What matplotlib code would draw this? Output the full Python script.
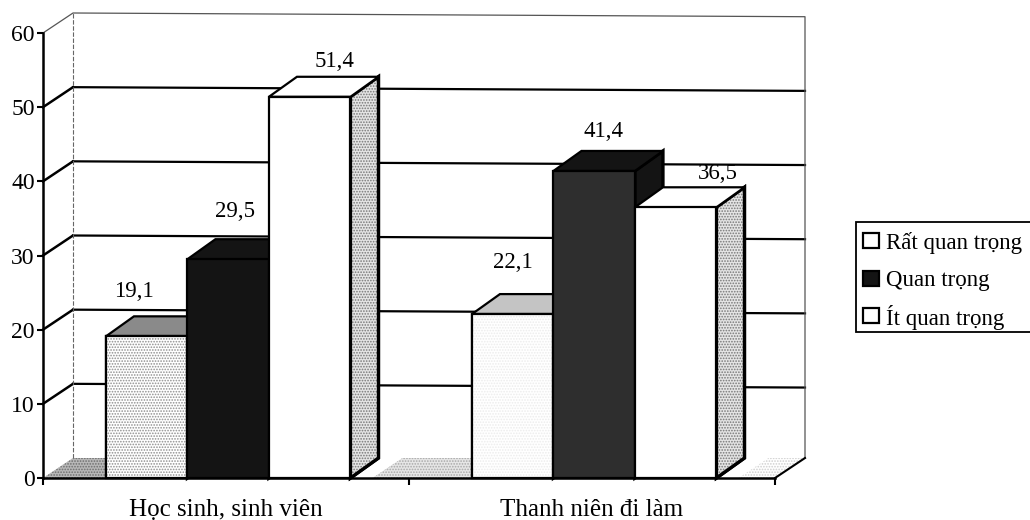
import matplotlib
matplotlib.use("Agg")
import matplotlib.pyplot as plt
from matplotlib.patches import Polygon, Rectangle

categories = ["Học sinh, sinh viên", "Thanh niên đi làm"]
series_names = ["Rất quan trọng", "Quan trọng", "Ít quan trọng"]
rat_quan_trong = [19.1, 22.1]
quan_trong = [29.5, 41.4]
it_quan_trong = [51.4, 36.5]
y_ticks = [0, 10, 20, 30, 40, 50, 60]

W, H = 1030, 520
X0, X1, Y0, Y60 = 43, 775, 478, 33  # front plane in pixels
PX_X = (X1 - X0) / 2.0  # pixels per category
PX_Y = (Y0 - Y60) / 60.0  # pixels per value unit
DX, DY = 30 / PX_X, 20 / PX_Y  # depth of the walls
BAR_DX, BAR_DY = 28 / PX_X, 20 / PX_Y  # depth of the bars
BAR_W = 81.5 / PX_X
GROUP_OFF = 0.172
SKEW = 0.5  # the scan is a little crooked, back lines drop towards the right

plt.rcParams['font.family'] = ['Liberation Serif', 'DejaVu Serif']
plt.rcParams['hatch.linewidth'] = 0.8

fig = plt.figure(figsize=(W / 100, H / 100), dpi=100)
ax = fig.add_axes([X0 / W, 1 - Y0 / H, (X1 - X0) / W, (Y0 - Y60) / H])
ax.set_xlim(0, 2)
ax.set_ylim(0, 60)


def poly(points, face, edge="black", lw=1.5, zorder=3):
    p = Polygon(points, closed=True, facecolor=face, edgecolor=edge, linewidth=lw,
                clip_on=False, zorder=zorder, joinstyle="miter")
    ax.add_patch(p)


def speckled(points, color, face="white", zorder=3):
    # hatch drawn on its own so the outline can stay black
    p = Polygon(points, closed=True, facecolor=face, edgecolor=color, linewidth=0,
                hatch="......", clip_on=False, zorder=zorder)
    ax.add_patch(p)


# walls
for v in y_ticks[1:-1]:
    ax.plot([DX, 2 + DX], [v + DY, v + DY - SKEW], color="black", lw=1.6, clip_on=False, zorder=1)
    ax.plot([0, DX], [v, v + DY], color="black", lw=1.8, clip_on=False, zorder=1)
ax.plot([0, DX, 2 + DX, 2 + DX], [60, 60 + DY, 60 + DY - SKEW, DY], color="#555555", lw=0.9,
        clip_on=False, zorder=1)
ax.plot([DX, DX], [DY, 60 + DY], color="#666666", lw=0.8, ls=(0, (4, 1.5)), clip_on=False, zorder=1)

# floor, split in the three parts that show between the bars
floor_parts = [(0, 0.2, "#6e6e6e", "#b8b8b8"), (0.9, 1.2, "#a8a8a8", "#e6e6e6"),
               (1.9, 2, "#cfcfcf", "white")]
for a, b, col, face in floor_parts:
    speckled([(a, 0), (b, 0), (b + DX, DY), (a + DX, DY)], col, face=face, zorder=1.5)
ax.plot([2, 2 + DX], [0, DY], color="black", lw=1.5, clip_on=False, zorder=1.6)

# bars, left to right so each one covers the side of the previous one
series = [rat_quan_trong, quan_trong, it_quan_trong]
front_color = [["white", "white"], ["#141414", "#2e2e2e"], ["white", "white"]]
front_speck = [["#8f8f8f", "#ececec"], [None, None], [None, None]]
top_color = [["#8a8a8a", "#c4c4c4"], ["#141414", "#141414"], ["white", "white"]]
side_color = ["#b0b0b0", "#141414", "#d8d8d8"]
label_off = [[(-13, 45), (0, 52)], [(7, 48), (9, 39)], [(25, 35), (42, 34)]]

for g in range(2):
    for s, vals in enumerate(series):
        x = g + GROUP_OFF + s * BAR_W
        v = vals[g]
        front = [(x, 0), (x + BAR_W, 0), (x + BAR_W, v), (x, v)]
        top = [(x, v), (x + BAR_W, v), (x + BAR_W + BAR_DX, v + BAR_DY), (x + BAR_DX, v + BAR_DY)]
        side = [(x + BAR_W, 0), (x + BAR_W + BAR_DX, BAR_DY), (x + BAR_W + BAR_DX, v + BAR_DY),
                (x + BAR_W, v)]
        z = 3 + s
        poly(side, side_color[s], lw=2.4, zorder=z)
        if s == 2:
            speckled(side, "#777777", face="#e4e4e4", zorder=z)
            poly(side, "none", lw=2.4, zorder=z)
        poly(top, top_color[s][g], lw=1.6, zorder=z)
        poly(front, front_color[s][g], lw=1.6, zorder=z)
        if front_speck[s][g]:
            speckled(front, front_speck[s][g], zorder=z)
            poly(front, "none", lw=1.6, zorder=z)
        ax.annotate(str(v).replace(".", ","), (x + BAR_W / 2, v),
                    xytext=label_off[s][g], textcoords="offset pixels", ha="center", va="center",
                    fontsize=16.5, zorder=8, annotation_clip=False)

# axes
for name in ["top", "right"]:
    ax.spines[name].set_visible(False)
for name in ["left", "bottom"]:
    ax.spines[name].set_linewidth(1.8)
    ax.spines[name].set_zorder(7)
ax.set_yticks(y_ticks)
ax.tick_params(axis="y", labelsize=17, width=1.5, length=4, pad=2)
ax.set_xticks([0, 1, 2])
ax.set_xticklabels([])
ax.tick_params(axis="x", which="major", width=1.5, length=5)
ax.set_xticks([0.5, 1.5], minor=True)
ax.set_xticklabels(categories, minor=True)
ax.tick_params(axis="x", which="minor", length=0, labelsize=18, pad=15)
ax.patch.set_visible(False)

# legend, laid out by hand since the box runs off the right edge of the scan
fig.add_artist(Rectangle((856 / W, 1 - 332 / H), 180 / W, 110 / H, facecolor="white",
                         edgecolor="black", linewidth=1.3, transform=fig.transFigure))
legend_rows = [240, 278, 315]
legend_face = ["white", "#141414", "white"]
for name, row, face in zip(series_names, legend_rows, legend_face):
    fig.add_artist(Rectangle((863 / W, 1 - (row + 7.5) / H), 16 / W, 15 / H, facecolor=face,
                             edgecolor="black", linewidth=1.6, transform=fig.transFigure))
    fig.text(886 / W, 1 - row / H, name, fontsize=16.5, ha="left", va="center_baseline")

fig.savefig("out.png", dpi=100)
